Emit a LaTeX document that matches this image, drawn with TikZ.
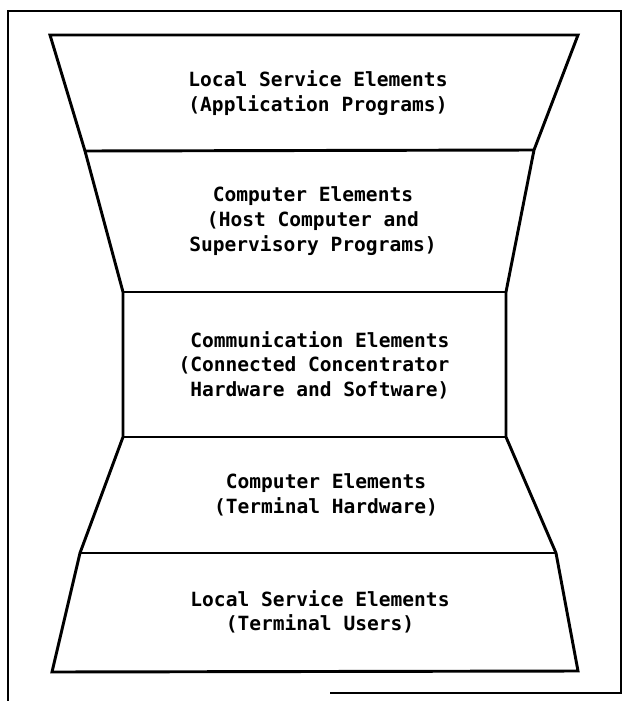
\documentclass[tikz,border=0pt]{standalone}
\usepackage{fontspec}
\setmonofont{DejaVu Sans Mono}
\usepackage{tikz}
\usepackage{xcolor}
\usetikzlibrary{calc}

\begin{document}
\begin{tikzpicture}[x=0.03cm, y=-0.03cm, layertext/.style={align=center, inner sep=0pt, font=\ttfamily\bfseries\fontsize{16.7}{21}\selectfont}]
            \useasboundingbox (0,0) rectangle (623,701);

            \coordinate (P0L) at (50,35);
            \coordinate (P0R) at (578,35);
            \coordinate (P1L) at (85,151);
            \coordinate (P1R) at (534,150);
            \coordinate (P2L) at (123,292);
            \coordinate (P2R) at (506,292);
            \coordinate (P3L) at (123,437);
            \coordinate (P3R) at (506,437);
            \coordinate (P4L) at (80,553);
            \coordinate (P4R) at (556,553);
            \coordinate (P5L) at (52,672);
            \coordinate (P5R) at (578,671);

            \tikzset{framestyle/.style={line width=1.7pt}}
            \tikzset{layerstyle/.style={line width=2.5pt, line join=miter}}

            % outer frame
            \draw[framestyle] (8,701) -- (8,11) -- (621,11) -- (621,693) -- (330,693);

            % hourglass outline and dividers
            \draw[layerstyle] (P0L) -- (P0R) -- (P1R) -- (P2R) -- (P3R) -- (P4R) -- (P5R)
                -- (P5L) -- (P4L) -- (P3L) -- (P2L) -- (P1L) -- cycle;
            \draw[layerstyle] (P1L) -- (P1R);
            \draw[layerstyle] (P2L) -- (P2R);
            \draw[layerstyle] (P3L) -- (P3R);
            \draw[layerstyle] (P4L) -- (P4R);

            \node[layertext] (L1) at (318,93) {Local Service Elements\\(Application Programs)};
            \node[layertext] (C1) at (313,221) {Computer Elements\\(Host Computer and\\Supervisory Programs)};
            \node[layertext, align=right] (M) at (314,365) {Communication Elements\\(Connected Concentrator\\Hardware and Software)};
            \node[layertext] (C2) at (326,495) {Computer Elements\\(Terminal Hardware)};
            \node[layertext] (L2) at (320,612) {Local Service Elements\\(Terminal Users)};

        \end{tikzpicture}
\end{document}
